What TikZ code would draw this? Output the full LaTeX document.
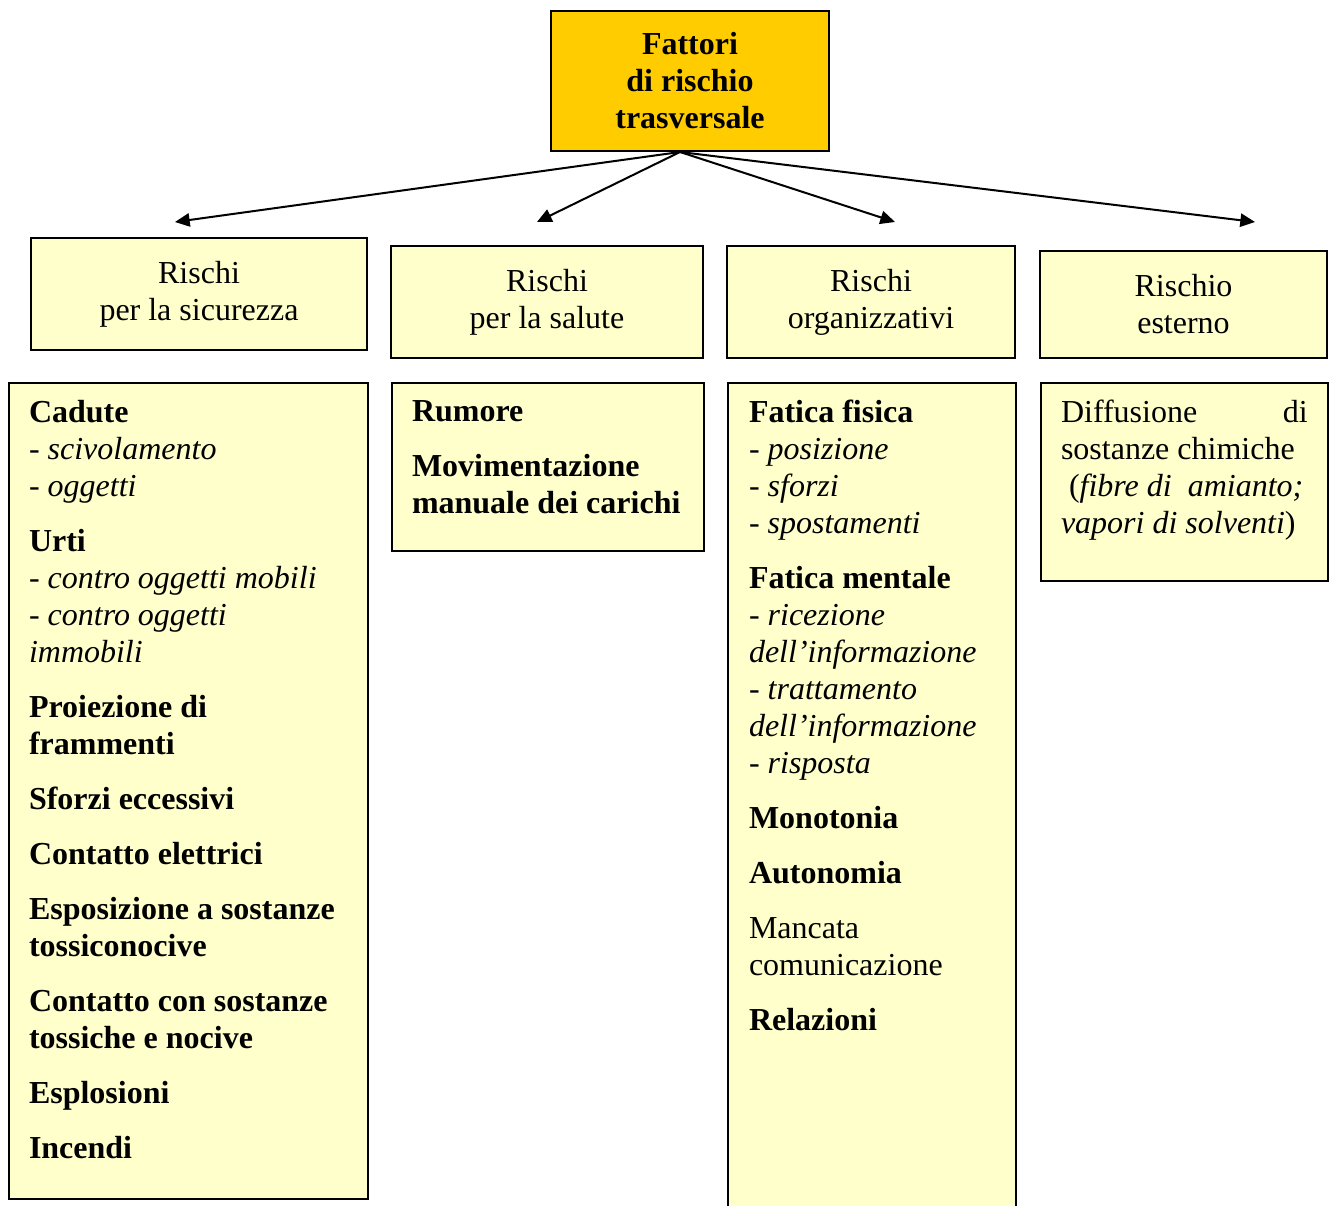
\documentclass[tikz,border=0pt]{standalone}
\usepackage{fontspec}
\setmainfont{Liberation Serif}
\usetikzlibrary{arrows.meta, positioning}
\definecolor{gold}{HTML}{FFCC00}
\definecolor{cream}{HTML}{FFFFCC}

\begin{document}
\begin{tikzpicture}[x=0.75pt, y=-0.75pt, line width=1.5pt,
   font=\fontsize{24}{27.75}\selectfont,
   head/.style = {draw, fill=cream, inner sep=0pt, align=center},
   body/.style = {draw, fill=cream, inner sep=0pt, anchor=north west},
   txt/.style  = {inner sep=0pt, align=left, anchor=north west},
   -{Triangle[length=11pt, width=10pt]}]
   \useasboundingbox (0,0) rectangle (1329,1206);

   \node[head, fill=gold, font=\fontsize{24}{27.75}\selectfont\bfseries,
      minimum width=208.5pt, minimum height=105pt] (top) at (690,81)
      {Fattori\\di rischio\\trasversale};

   \node[head, minimum width=252pt, minimum height=84pt] (sic) at (199,294)
      {Rischi\\per la sicurezza};
   \node[head, minimum width=234pt, minimum height=84pt] (sal) at (547,302)
      {Rischi\\per la salute};
   \node[head, minimum width=216pt, minimum height=84pt] (org) at (871,302)
      {Rischi\\organizzativi};
   \node[head, minimum width=215.25pt, minimum height=80.25pt] (est) at (1183.5,304.5)
      {Rischio\\esterno};

   \coordinate (fork) at (680,152);
   \coordinate (a1) at (175,222);
   \coordinate (a2) at (537,222);
   \coordinate (a3) at (895,222);
   \coordinate (a4) at (1255,222);
   \draw (fork) -- (a1);
   \draw (fork) -- (a2);
   \draw (fork) -- (a3);
   \draw (fork) -- (a4);

   % elenchi
   \node[body, minimum width=269.25pt, minimum height=612pt] (sicbox) at (8,382) {};
   \node[body, minimum width=234pt, minimum height=126pt] (salbox) at (391,382) {};
   \node[body, minimum width=216pt, minimum height=636pt] (orgbox) at (727,382) {};
   \node[body, minimum width=215.25pt, minimum height=148.5pt] (estbox) at (1040,382) {};

   \node[txt, below right=13pt and 15pt of sicbox.north west] (sictxt)
      {\textbf{Cadute}\\- \textit{scivolamento}\\- \textit{oggetti}\\[13.5pt]
       \textbf{Urti}\\- \textit{contro oggetti mobili}\\- \textit{contro oggetti}\\\textit{immobili}\\[13.5pt]
       \textbf{Proiezione di}\\\textbf{frammenti}\\[13.5pt]
       \textbf{Sforzi eccessivi}\\[13.5pt]
       \textbf{Contatto elettrici}\\[13.5pt]
       \textbf{Esposizione a sostanze}\\\textbf{tossiconocive}\\[13.5pt]
       \textbf{Contatto con sostanze}\\\textbf{tossiche e nocive}\\[13.5pt]
       \textbf{Esplosioni}\\[13.5pt]
       \textbf{Incendi}};
   \node[txt, below right=13pt and 15pt of salbox.north west] (saltxt)
      {\textbf{Rumore}\\[13.5pt]
       \textbf{Movimentazione}\\\textbf{manuale dei carichi}};
   \node[txt, below right=13pt and 15.75pt of orgbox.north west] (orgtxt)
      {\textbf{Fatica fisica}\\- \textit{posizione}\\- \textit{sforzi}\\- \textit{spostamenti}\\[13.5pt]
       \textbf{Fatica mentale}\\- \textit{ricezione}\\\textit{dell’informazione}\\- \textit{trattamento}\\\textit{dell’informazione}\\- \textit{risposta}\\[13.5pt]
       \textbf{Monotonia}\\[13.5pt]
       \textbf{Autonomia}\\[13.5pt]
       Mancata\\comunicazione\\[13.5pt]
       \textbf{Relazioni}};
   \node[txt, below right=13pt and 15pt of estbox.north west] (esttxt)
      {\makebox[185pt][s]{Diffusione\hfill di}\\sostanze chimiche\\\hspace*{0.25em}(\textit{fibre di\ \ amianto;}\\\textit{vapori di solventi})};
\end{tikzpicture}
\end{document}
